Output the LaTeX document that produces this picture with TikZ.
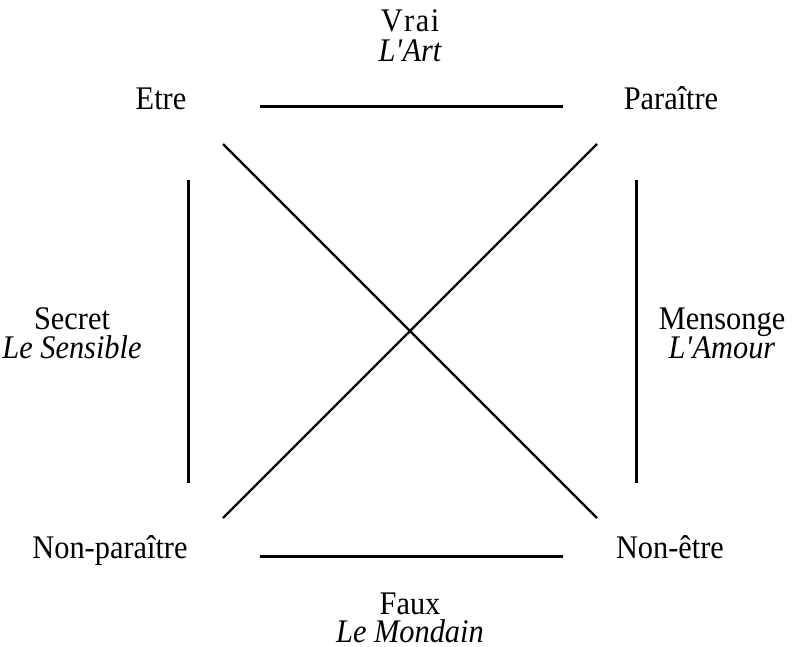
\documentclass[tikz,border=0pt]{standalone}
\usepackage{fontspec}
\setmainfont[FakeStretch=0.92]{Liberation Serif}
\begin{document}
\begin{tikzpicture}[x=1pt,y=-1pt,
  term/.style={anchor=base,inner sep=0pt,font=\fontsize{33}{38}\selectfont},
  gloss/.style={term,font=\fontsize{33}{38}\selectfont\itshape},
  edge/.style={line width=3pt},
  diag/.style={line width=2.3pt}]
\useasboundingbox (0,0) rectangle (803,647);
% the four corner terms
\node[term] (etre)   at (161,110) {Etre};
\node[term] (parait) at (671,110) {Paraître};
\node[term] (nonpar) at (110,558) {Non-paraître};
\node[term] (nonetr) at (670,558) {Non-être};
% the labels of the four sides
\node[term]  (vrai)  at (410,32) {V\kern1.5pt r\kern1.5pt a\kern1.5pt i};
\node[gloss] (art)   at (410,62) {L\textquotesingle Art};
\node[term]  (faux)  at (410,614) {Faux};
\node[gloss] (mond)  at (410,642) {Le Mondain};
\node[term]  (secr)  at (72,329) {Secret};
\node[gloss] (sens)  at (72,358) {Le Sensible};
\node[term]  (mens)  at (722,329) {Mensonge};
\node[gloss] (amour) at (722,358) {L\textquotesingle Amour};
% end points of the sides and diagonals
\coordinate (t1) at (260,107); \coordinate (t2) at (563,107);
\coordinate (b1) at (260,556); \coordinate (b2) at (563,556);
\coordinate (l1) at (188,180); \coordinate (l2) at (188,483);
\coordinate (r1) at (636,180); \coordinate (r2) at (636,483);
\coordinate (d1) at (223,144); \coordinate (d2) at (597,518);
\coordinate (e1) at (597,144); \coordinate (e2) at (223,518);
\draw[edge] (t1) -- (t2);
\draw[edge] (b1) -- (b2);
\draw[edge] (l1) -- (l2);
\draw[edge] (r1) -- (r2);
\draw[diag] (d1) -- (d2);
\draw[diag] (e1) -- (e2);
\end{tikzpicture}
\end{document}
